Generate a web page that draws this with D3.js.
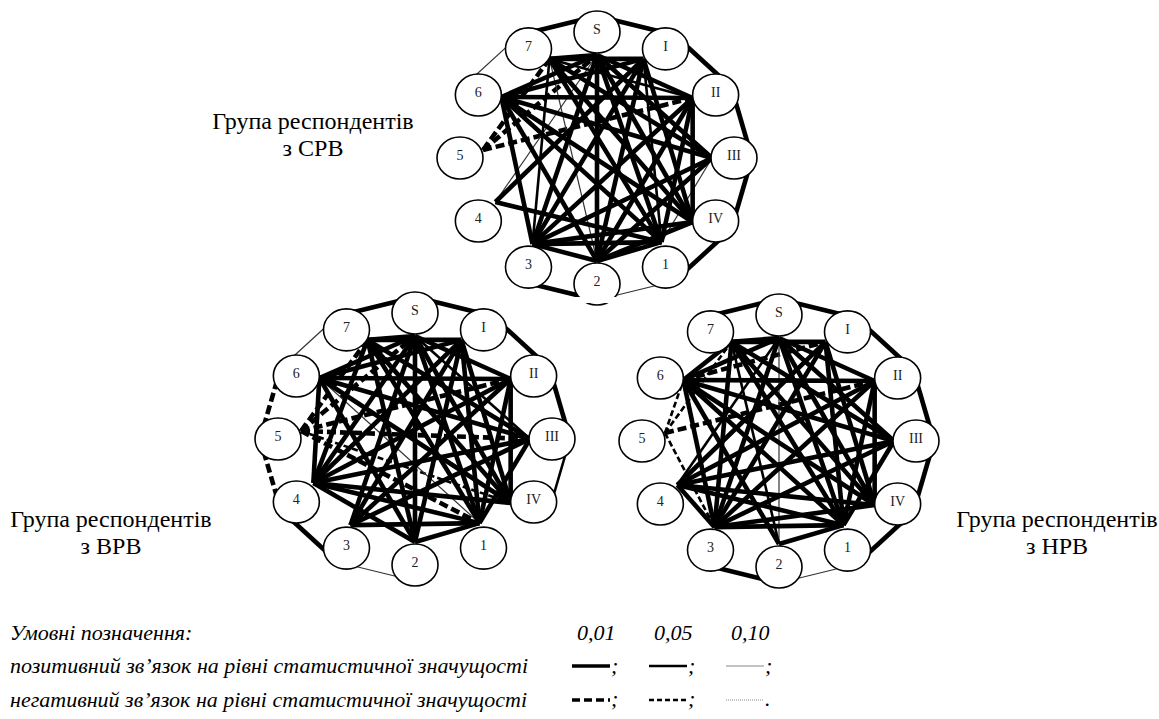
<!DOCTYPE html>
<html><head><meta charset="utf-8">
<script src="https://cdn.jsdelivr.net/npm/d3@7"></script>
<style>body{margin:0;background:#fff}svg{display:block}text{font-family:"Liberation Serif","Times New Roman",serif}</style>
</head><body><svg id="c" width="1159" height="719"></svg>
<script>
// ---------- DATA ----------
const nodeNames = ["S","I","II","III","IV","1","2","3","4","5","6","7"];
const levelLabels = ["0,01","0,05","0,10"];
const groupTitles = ["Група респондентів", "з СРВ", "з ВРВ", "з НРВ"];
const legendTitle = "Умовні позначення:";
const legendPos = "позитивний зв’язок на рівні статистичної значущості";
const legendNeg = "негативний зв’язок на рівні статистичної значущості";
// edges: [nodeA, nodeB, level (0 = 0,01; 1 = 0,05; 2 = 0,10), sign (+1 / -1)]
const ringSRV = [["7","S",0,1],["S","I",0,1],["I","II",0,1],["II","III",0,1],["III","IV",0,1],["IV","1",0,1],["1","2",2,1],["2","3",0,1],["6","7",2,1]];
const linksSRV = [
 ["S","2",0,1],["S","3",0,1],["S","1",0,1],["S","IV",0,1],["S","III",0,1],["S","II",0,1],["S","6",0,1],["S","4",2,1],["S","7",0,1],
 ["7","I",0,1],["7","III",0,1],["7","IV",0,1],["7","1",0,1],["7","3",1,1],["7","2",2,1],["7","II",1,1],
 ["I","6",0,1],["I","3",0,1],["I","2",0,1],["I","4",0,1],["I","IV",0,1],["I","1",1,1],
 ["II","6",0,1],["II","IV",0,1],["II","3",0,1],["II","2",0,1],["II","1",0,1],
 ["III","6",0,1],["III","3",0,1],["III","2",0,1],["III","1",2,1],
 ["IV","6",0,1],["IV","3",0,1],["IV","2",0,1],
 ["1","6",0,1],["1","3",0,1],["1","2",0,1],["4","1",0,1],
 ["2","6",0,1],["2","3",0,1],["3","6",0,1],
 ["5","S",0,-1],["5","7",0,-1],["5","II",0,-1]
];
const ringVRV = [["7","S",0,1],["S","I",0,1],["I","II",0,1],["II","III",0,1],["III","IV",1,1],["2","3",2,1],["3","4",0,1],["4","5",0,-1],["5","6",0,-1],["6","7",2,1]];
const linksVRV = [
 ["S","2",0,1],["S","3",0,1],["S","1",0,1],["S","IV",0,1],["S","III",1,1],["S","6",0,1],["S","4",0,1],["S","II",0,1],["S","7",0,1],
 ["7","I",0,1],["7","1",0,1],["7","2",0,1],["7","4",0,1],["7","III",0,1],["7","IV",0,1],
 ["I","6",0,1],["I","4",0,1],["I","3",0,1],["I","1",0,1],["I","2",0,1],["I","IV",0,1],
 ["II","6",0,1],["II","4",0,1],["II","3",0,1],["II","1",0,1],["II","IV",0,1],
 ["III","4",0,1],["III","6",0,1],["III","1",0,1],["III","3",0,1],
 ["IV","6",0,1],["IV","4",0,1],
 ["1","6",2,1],["1","3",0,1],["1","4",0,1],["2","1",0,1],
 ["2","4",0,1],["2","6",0,1],["6","4",0,1],
 ["5","III",0,-1],["5","7",0,-1],["5","1",0,-1],["5","II",0,-1],["5","IV",1,-1],["5","S",0,-1]
];
const ringNRV = [["7","S",0,1],["S","I",0,1],["I","II",0,1],["II","III",0,1],["III","IV",0,1],["IV","1",0,1],["1","2",2,1],["2","3",0,1]];
const linksNRV = [
 ["S","2",2,1],["S","3",0,1],["S","1",0,1],["S","IV",0,1],["S","III",0,1],["S","6",0,1],["S","4",1,1],["S","II",0,1],["S","7",0,1],
 ["7","I",0,1],["7","1",0,1],["7","IV",0,1],["7","III",0,1],["7","3",0,1],["7","2",1,1],["7","6",0,1],
 ["I","3",0,1],["I","4",0,1],["I","1",0,1],["I","IV",0,1],
 ["II","6",0,1],["II","3",0,1],["II","4",0,1],["II","1",0,1],["II","IV",0,1],
 ["III","6",0,1],["III","4",0,1],["III","3",0,1],["III","1",0,1],
 ["IV","6",0,1],["IV","3",0,1],["IV","4",0,1],
 ["1","3",0,1],["1","6",0,1],["1","4",0,1],["2","6",0,1],["2","1",0,1],
 ["3","6",0,1],["3","4",0,1],
 ["6","I",0,-1],["5","3",1,-1],["5","6",1,-1],["5","II",0,-1],["5","7",1,-1]
];

// ---------- STYLE / LAYOUT ----------
const svg = d3.select("#c");
const FONT = "'Liberation Serif','Times New Roman',serif";
const widths = [4.6, 2.6, 1.2];
const colors = ["#000","#000","#333"];
const dashes = ["9,4","6,3","2,2"];
const anchorOff = {S:[0,23],I:[-22,10],II:[-23,3],III:[-22,0],IV:[-23,1],"1":[-4,-25],"2":[0,-23],"3":[4,-23],"4":[17,-19],"5":[23,-8],"6":[23,2],"7":[21,10]};

const groups = [
  {ring: ringSRV, links: linksSRV, cx: 597, cy: 158, title: [groupTitles[0], groupTitles[1]], tx: 313, ty: 129},
  {ring: ringVRV, links: linksVRV, cx: 415, cy: 439, title: [groupTitles[0], groupTitles[2]], tx: 111, ty: 527},
  {ring: ringNRV, links: linksNRV, cx: 779, cy: 441, title: [groupTitles[0], groupTitles[3]], tx: 1057, ty: 527}
];

const angle = d3.scaleLinear().domain([0, nodeNames.length]).range([-Math.PI/2, 1.5*Math.PI]);

function styleEdge(sel){
  sel.attr("stroke", d => colors[d[2]])
     .attr("stroke-width", d => widths[d[2]])
     .attr("stroke-dasharray", d => d[3] < 0 ? dashes[d[2]] : null)
     .attr("fill","none");
}

groups.forEach(G => {
  const g = svg.append("g");
  const xs = d3.scaleLinear().domain([-1,1]).range([G.cx-137, G.cx+137]);
  const ys = d3.scaleLinear().domain([-1,1]).range([G.cy-126, G.cy+126]);
  const xo = d3.scaleLinear().domain([-1,1]).range([G.cx-155, G.cx+155]);
  const yo = d3.scaleLinear().domain([-1,1]).range([G.cy-142, G.cy+142]);
  const pos = {}, outer = {}, anc = {};
  nodeNames.forEach((n,i) => {
    const a = angle(i);
    pos[n] = [xs(Math.cos(a)), ys(Math.sin(a))];
    outer[n] = [xo(Math.cos(a)), yo(Math.sin(a))];
    anc[n] = [pos[n][0]+anchorOff[n][0], pos[n][1]+anchorOff[n][1]];
  });
  g.selectAll("line.ring").data(G.ring).join("line").attr("class","ring")
    .attr("x1", d => outer[d[0]][0]).attr("y1", d => outer[d[0]][1])
    .attr("x2", d => outer[d[1]][0]).attr("y2", d => outer[d[1]][1])
    .call(styleEdge);
  // negative links below, then thin to thick positive
  const sorted = G.links.slice().sort((a,b) => (a[3]-b[3]) || (b[2]-a[2]));
  g.selectAll("line.link").data(sorted).join("line").attr("class","link")
    .attr("x1", d => anc[d[0]][0]).attr("y1", d => anc[d[0]][1])
    .attr("x2", d => anc[d[1]][0]).attr("y2", d => anc[d[1]][1])
    .call(styleEdge);
  const nodes = g.selectAll("g.node").data(nodeNames).join("g").attr("class","node")
    .attr("transform", d => `translate(${pos[d][0]},${pos[d][1]})`);
  nodes.append("ellipse").attr("rx",23).attr("ry",21).attr("fill","#fff").attr("stroke","#000").attr("stroke-width",1.6);
  nodes.append("text").text(d => d).attr("text-anchor","middle").attr("dy","0.15em")
    .style("font-family",FONT).attr("font-size",14).attr("fill","#222");
  svg.append("text").attr("x",G.tx).attr("y",G.ty).attr("text-anchor","middle")
    .style("font-family",FONT).attr("font-size",24).text(G.title[0]);
  svg.append("text").attr("x",G.tx).attr("y",G.ty+27).attr("text-anchor","middle")
    .style("font-family",FONT).attr("font-size",24).text(G.title[1]);
});
// gap under node 2 of the upper pleiad
svg.append("rect").attr("x",558).attr("y",297).attr("width",60).attr("height",6).attr("fill","#fff");

// ---------- LEGEND ----------
const L = svg.append("g").style("font-family",FONT).attr("font-style","italic").attr("font-size",22);
L.append("text").attr("x",10).attr("y",640).text(legendTitle);
L.append("text").attr("x",10).attr("y",673).text(legendPos);
L.append("text").attr("x",10).attr("y",707).text(legendNeg);
const lx = d3.scaleLinear().domain([0,2]).range([577, 731]);
L.selectAll("text.lvl").data(levelLabels).join("text").attr("class","lvl")
  .attr("x", (d,i) => lx(i)).attr("y",640).text(d => d);
const legItems = [];
[1,-1].forEach((s,r) => levelLabels.forEach((l,i) => legItems.push([i, s, r])));
L.selectAll("line.leg").data(legItems).join("line").attr("class","leg")
  .attr("x1", d => lx(d[0])-5).attr("x2", d => lx(d[0])+33)
  .attr("y1", d => d[2]===0 ? 666 : 700).attr("y2", d => d[2]===0 ? 666 : 700)
  .attr("stroke", d => d[0]===2 ? "#888" : "#000")
  .attr("stroke-width", d => [3.6,2.4,1][d[0]])
  .attr("stroke-dasharray", d => d[1] < 0 ? ["8,4","5,3","1,1"][d[0]] : null);
L.selectAll("text.sep").data(legItems).join("text").attr("class","sep")
  .attr("x", d => lx(d[0])+34).attr("y", d => d[2]===0 ? 673 : 706)
  .text(d => (d[2]===1 && d[0]===2) ? "." : ";");
</script></body></html>
